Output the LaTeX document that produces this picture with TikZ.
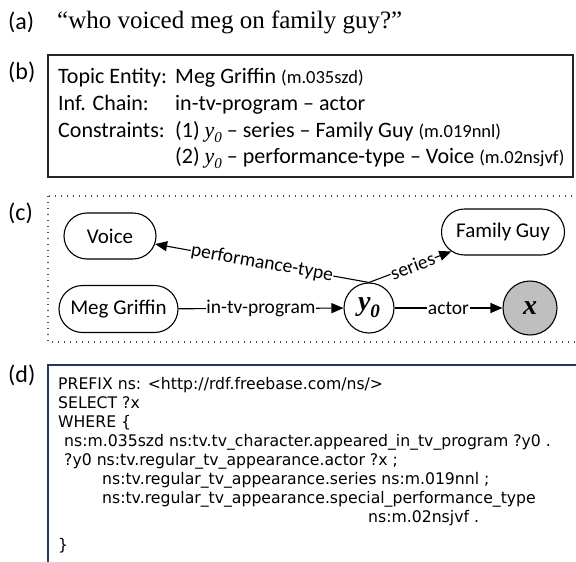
\documentclass[tikz,border=0pt]{standalone}
\usepackage{fontspec}
\setmainfont{Carlito}
\newfontfamily\tnr{Liberation Serif}
\newfontfamily\sparql[FakeStretch=0.98]{DejaVu Sans}
\usetikzlibrary{arrows.meta,shapes.misc}
\definecolor{navy}{RGB}{32,56,100}
\newcommand{\yz}{{\tnr\itshape y\raisebox{-0.25em}{\fontsize{15}{15}\selectfont 0}}}
\newcommand{\myid}[1]{{\fontsize{18.5}{22}\selectfont #1}}
\begin{document}
\begin{tikzpicture}[x=1pt,y=-1pt,
  lbl/.style={anchor=west,inner sep=0pt,font=\fontsize{24}{28}\selectfont},
  btxt/.style={anchor=base west,inner sep=0pt,font=\fontsize{22}{26}\selectfont},
  sq/.style={anchor=base west,inner sep=0pt,font=\sparql\fontsize{16}{19}\selectfont},
  ent/.style={rounded rectangle,draw,line width=1.1pt,inner sep=0pt,font=\fontsize{21}{25}\selectfont},
  var/.style={circle,draw,line width=1.1pt,inner sep=0pt,font=\tnr\bfseries\itshape\fontsize{28}{30}\selectfont},
  arr/.style={-{Triangle[length=12pt,width=10pt]},line width=1.1pt},
  elab/.style={fill=white,inner sep=0.5pt,font=\fontsize{19.5}{22}\selectfont}]
\useasboundingbox (0,0) rectangle (576,562);
% (a)
\node[lbl] (la) at (8,22) {(a)};
\node[anchor=base west,inner sep=0pt,font=\tnr\fontsize{25}{28}\selectfont] (q) at (57,28) {“who voiced meg on family guy?”};
% (b)
\node[lbl] (lb) at (8,72) {(b)};
\draw[line width=1.5pt,black!85] (48,55) rectangle (573,177);
\node[btxt] (t1) at (58,83) {Topic Entity:};
\node[btxt] (t2) at (58,110) {Inf. Chain:};
\node[btxt] (t3) at (58,137) {Constraints:};
\node[btxt] (v1) at (175,83) {Meg Griffin \myid{(m.035szd)}};
\node[btxt] (v2) at (175,110) {in-tv-program – actor};
\node[btxt] (v3) at (175,137) {(1) \yz\ – series – Family Guy \myid{(m.019nnl)}};
\node[btxt] (v4) at (175,163) {(2) \yz\ – performance-type – Voice \myid{(m.02nsjvf)}};
% (c)
\node[lbl] (lc) at (8,213) {(c)};
\draw[line width=1.3pt,black!70,dash pattern=on 1.3pt off 4.7pt] (48,196) rectangle (590,342);
\node[ent,minimum width=92pt,minimum height=46pt] (voice) at (110,236) {Voice};
\node[ent,minimum width=123pt,minimum height=46pt] (fg) at (503,232) {Family Guy};
\node[ent,minimum width=119pt,minimum height=47pt] (meg) at (118.5,309) {Meg Griffin};
\node[var,minimum size=50pt] (y0) at (369,308) {y\raisebox{-0.25em}{\fontsize{19}{19}\selectfont 0}};
\node[var,minimum size=54pt,fill=black!25] (x) at (530,308) {x};
\draw[arr] (meg) -- node[elab] {in-tv-program} (y0);
\draw[arr] (y0) -- node[elab] {actor} (x);
\draw[arr] (y0.north) -- node[elab,sloped,pos=0.53] {series} (fg);
\draw[arr] (y0.north) -- node[elab,sloped,pos=0.5] {performance-type} (voice);
% (d)
\node[lbl] (ld) at (8,375) {(d)};
\draw[line width=1.6pt,navy] (48,600) -- (48,365) -- (600,365);
\node[sq] (s1) at (58,389) {PREFIX ns: <http://rdf.freebase.com/ns/>};
\node[sq] (s2) at (58,408) {SELECT ?x};
\node[sq] (s3) at (58,427) {WHERE \{};
\node[sq] (s4) at (64,446) {ns:m.035szd ns:tv.tv\_character.appeared\_in\_tv\_program ?y0 .};
\node[sq] (s5) at (64,465) {?y0 ns:tv.regular\_tv\_appearance.actor ?x ;};
\node[sq] (s6) at (102,484) {ns:tv.regular\_tv\_appearance.series ns:m.019nnl ;};
\node[sq] (s7) at (102,503) {ns:tv.regular\_tv\_appearance.special\_performance\_type};
\node[sq] (s8) at (368,522) {ns:m.02nsjvf .};
\node[sq] (s9) at (58,550) {\}};
\end{tikzpicture}
\end{document}
